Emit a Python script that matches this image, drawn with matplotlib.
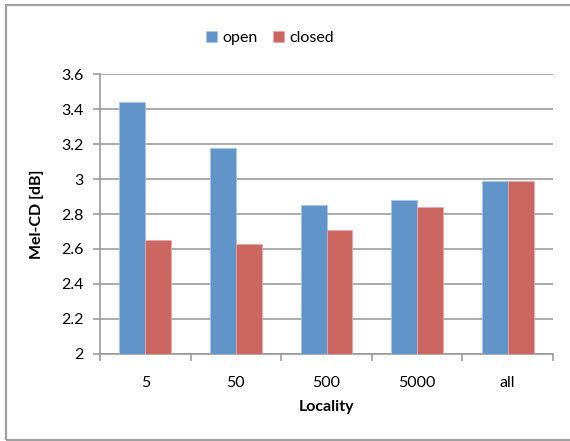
import matplotlib.pyplot as plt
import numpy as np
from matplotlib.patches import Rectangle

plt.rcParams['font.family'] = ['Lato', 'DejaVu Sans']

localities = ["5", "50", "500", "5000", "all"]
open_cd = [3.44, 3.18, 2.85, 2.88, 2.99]
closed_cd = [2.65, 2.63, 2.71, 2.84, 2.99]

blue = "#6194c9"
red = "#cc6660"
grid_grey = "#959595"
fs = 11.5

W, H = 570, 441
fig = plt.figure(figsize=(W / 100, H / 100), dpi=100)

# chart frame
fig.patches.append(Rectangle((6 / W, 1 - 440 / H), 1.0, (440 - 5) / H,
                             transform=fig.transFigure, fill=False,
                             edgecolor="#a0a0a0", linewidth=1.6))

ax = fig.add_axes([100 / W, 1 - 353.7 / H, 453 / W, (353.7 - 74.3) / H])

idx = np.arange(len(localities))
bw = 1 / 3.5
ax.bar(idx - bw / 2, open_cd, bw, color=blue, edgecolor="#a9c4e2",
       linewidth=0.5, label="open", zorder=3)
ax.bar(idx + bw / 2, closed_cd, bw, color=red, edgecolor="#e4a9a6",
       linewidth=0.5, label="closed", zorder=3)

ax.set_xlim(-0.5, len(localities) - 0.5)
ax.set_ylim(2, 3.6)
ax.set_yticks(np.arange(2, 3.61, 0.2))
ax.set_yticklabels(["2", "2.2", "2.4", "2.6", "2.8", "3", "3.2", "3.4", "3.6"])
ax.yaxis.grid(True, color=grid_grey, linewidth=1.1, zorder=0)
ax.set_axisbelow(True)

ax.set_xticks(idx)
ax.set_xticklabels(localities)
ax.set_xticks(np.arange(-0.5, len(localities)), minor=True)
ax.tick_params(axis="x", which="major", length=0, pad=16, labelsize=fs)
ax.tick_params(axis="x", which="minor", length=5, color=grid_grey, width=1.1)
ax.tick_params(axis="y", length=5, color=grid_grey, width=1.1, pad=7,
               labelsize=fs)

for side in ["top", "right"]:
    ax.spines[side].set_visible(False)
for side in ["left", "bottom"]:
    ax.spines[side].set_color(grid_grey)
    ax.spines[side].set_linewidth(1.1)

ax.set_xlabel("Locality", fontweight="bold", fontsize=fs, labelpad=7)
ax.set_ylabel("Mel-CD [dB]", fontweight="bold", fontsize=fs, labelpad=12)

fig.legend(loc="center", bbox_to_anchor=(270 / W, 1 - 38 / H), ncol=2,
           frameon=False, fontsize=fs, handlelength=0.7, handleheight=0.7,
           handletextpad=0.3, columnspacing=1.0)

fig.savefig("out.png", dpi=100)
